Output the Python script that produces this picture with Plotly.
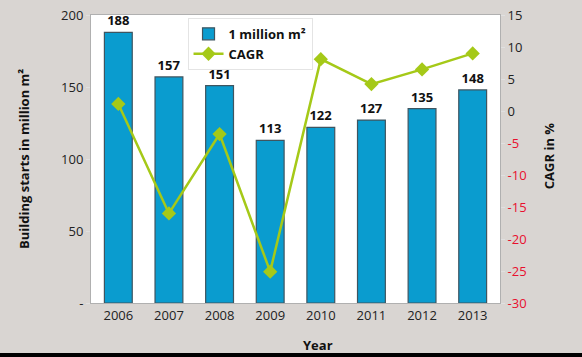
import plotly.graph_objects as go

years = ["2006", "2007", "2008", "2009", "2010", "2011", "2012", "2013"]
starts = [188, 157, 151, 113, 122, 127, 135, 148]
cagr = [1.1, -16.0, -3.6, -25.1, 8.1, 4.2, 6.5, 9.0]
left_ticks = [0, 50, 100, 150, 200]
left_labels = ["-", "50", "100", "150", "200"]
right_ticks = [-30, -25, -20, -15, -10, -5, 0, 5, 10, 15]

FONT = "Open Sans, Noto Sans, sans-serif"
right_labels = [
    (f"<span style='color:#e8102e'>{v}</span>" if v < 0 else str(v)) for v in right_ticks
]

fig = go.Figure()
fig.add_trace(go.Bar(
    x=years, y=starts, name="1 million m²",
    marker=dict(color="#0a9ccf", line=dict(color="#3f5560", width=1.2)),
    width=0.55,
    text=[str(v) for v in starts], textposition="outside",
    textfont=dict(family=FONT, size=13, color="#111111", weight="bold"),
    cliponaxis=False,
))
fig.add_trace(go.Scatter(
    x=years, y=cagr, name="CAGR", yaxis="y2", mode="lines+markers",
    line=dict(color="#a5c918", width=2.5),
    marker=dict(symbol="diamond", size=11, color="#a5c918"),
))

fig.update_layout(
    width=582, height=357,
    margin=dict(l=91, r=82, t=15, b=54, autoexpand=False),
    paper_bgcolor="#d9d5d2", plot_bgcolor="#ffffff",
    font=dict(family=FONT, size=13, color="#222222"),
    showlegend=True,
    legend=dict(x=0.236, y=0.99, xanchor="left", yanchor="top",
                bgcolor="#ffffff", bordercolor="#e4e4e4", borderwidth=1,
                font=dict(family=FONT, size=13, color="#111111", weight="bold"),
                tracegroupgap=0, itemwidth=30),
    bargap=0.45,
    xaxis=dict(showline=True, linecolor="#b0b0b0", linewidth=1, mirror=True,
               ticks="", automargin=False, tickfont=dict(size=13, color="#222222")),
    yaxis=dict(range=[0, 200], tickvals=left_ticks, ticktext=left_labels,
               showgrid=False, zeroline=False, showline=True, linecolor="#b0b0b0",
               ticks="outside", ticklen=4, tickcolor="#e0e0e0", automargin=False,
               tickfont=dict(size=13, color="#222222")),
    yaxis2=dict(range=[-30, 15], tickvals=right_ticks, ticktext=right_labels,
                overlaying="y", side="right", showgrid=False, zeroline=False,
                showline=True, linecolor="#b0b0b0", automargin=False,
                ticks="outside", ticklen=4, tickcolor="#e0e0e0",
                tickfont=dict(size=13, color="#222222")),
    annotations=[
        dict(text="<b>Building starts in million m²</b>", xref="paper", yref="paper",
             x=-0.164, y=0.5, xanchor="center", yanchor="middle", textangle=-90,
             showarrow=False, font=dict(family=FONT, size=13, color="#111111")),
        dict(text="<b>CAGR in %</b>", xref="paper", yref="paper",
             x=1.12, y=0.51, xanchor="center", yanchor="middle", textangle=-90,
             showarrow=False, font=dict(family=FONT, size=13, color="#111111")),
        dict(text="<b>Year</b>", xref="paper", yref="paper",
             x=0.554, y=-0.145, xanchor="center", yanchor="middle", showarrow=False,
             font=dict(family=FONT, size=13, color="#111111")),
    ],
    shapes=[dict(type="rect", xref="paper", yref="paper",
                 x0=-0.3, x1=1.3, y0=-0.2, y1=-0.174,
                 fillcolor="#000000", line=dict(width=0), layer="above")],
)

fig.write_html("out.html", config={"displayModeBar": False},
               post_script="document.body.style.margin='0';document.body.style.overflow='hidden';")
